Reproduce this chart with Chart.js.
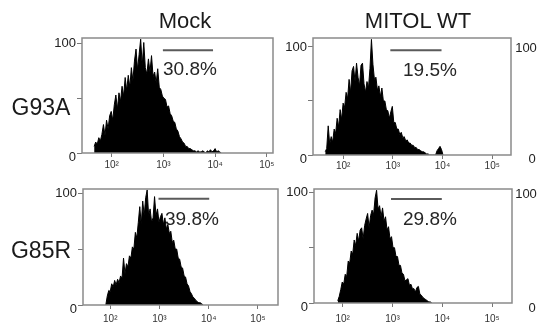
<!DOCTYPE html>
<html><head><meta charset="utf-8">
<script src="https://cdn.jsdelivr.net/npm/chart.js@4.4.0/dist/chart.umd.min.js"></script>
<style>
html,body{margin:0;padding:0;background:#fff;width:541px;height:327px;overflow:hidden;position:relative;font-family:"Liberation Sans",Arial,Helvetica,sans-serif;}
canvas{position:absolute;}
.t{position:absolute;white-space:nowrap;color:#1a1a1a;line-height:1;transform:translate(-50%,-50%);}
.l{position:absolute;white-space:nowrap;color:#262626;line-height:1;transform:translateY(-50%);}
</style></head><body>
<canvas id="p0"></canvas><canvas id="p1"></canvas><canvas id="p2"></canvas><canvas id="p3"></canvas>
<script>
// ---------- data ----------
const columnTitles = ['Mock', 'MITOL WT'];
const rowLabels = ['G93A', 'G85R'];
const xTickValues = [2, 3, 4, 5];           // log10 of fluorescence
const xTickLabels = ['10²', '10³', '10⁴', '10⁵'];
const yTickValues = [0, 50, 100];
const yTickLabels = ['0', '', '100'];
const binStep = 0.03;                        // histogram bin width (log10 units)

// G93A / Mock
const g93aMockStart = 1.66;
const g93aMock = [6,10,8,14,11,17,26,16,30,22, 34,38,30,44,53,40,55,47,61,52, 69,57,71,60,78,66,84,95,76,90,
  104,80,101,78,72,86,74,89,70,74, 64,77,60,58,52,50,49,42,43,36, 34,29,28,22,20,15,13,10,9,6,
  6,4,4,3,2,2,1,2,1,1, 2,1,0,2,1,3,1,2,4,1, 2,1,0];
// G93A / MITOL WT
const g93aMitolStart = 1.64;
const g93aMitol = [3,6,27,10,17,12,24,20,34,26, 42,33,48,44,58,52,70,58,78,82, 68,85,72,64,83,85,66,58,68,62,
  80,107,84,70,72,60,64,54,62,50, 50,42,41,34,40,45,30,30,24,24, 19,21,16,17,13,14,11,11,9,9,
  7,7,5,5,4,3,3,2,1,1, 0,0,0,0,0,4,6,8,5,0];
// G85R / Mock
const g85rMockStart = 1.91;
const g85rMock = [0,8,13,12,19,16,22,18,23,20, 26,24,42,28,37,34,44,42,52,50, 65,60,74,88,72,93,80,96,103,80,
  86,74,78,97,80,86,74,79,82,72, 78,68,72,64,66,56,58,50,50,42, 41,34,33,26,25,19,17,12,10,7,
  6,4,3,2,2,1,0];
// G85R / MITOL WT
const g85rMitolStart = 1.90;
const g85rMitol = [2,6,12,19,17,26,24,38,36,47, 44,57,52,63,56,66,68,58,70,76, 81,68,79,84,80,95,102,85,88,78,
  86,74,78,66,69,58,60,50,50,42, 42,34,34,27,26,20,21,22,16,17, 13,13,10,14,15,8,7,5,4,3,
  2,1,1,0];

// gates (log10 range, height in % of max) and percentages
const gatePercents = ['30.8%', '19.5%', '39.8%', '29.8%'];
const gateFrom = [2.99, 2.95, 2.98, 2.97];
const gateTo = [3.96, 3.98, 4.01, 3.99];
const gateLevel = [94, 97, 95, 94];

// ---------- layout ----------
const panels = [
  {id:'p0', vals:g93aMock,  start:g93aMockStart,  L:82,  T:38,  R:273, B:153, xmin:1.425, xmax:5.12,  ymax:105.1, xpad:2, gx:163, gy:68},
  {id:'p1', vals:g93aMitol, start:g93aMitolStart, L:313, T:38,  R:511, B:155, xmin:1.394, xmax:5.378, ymax:108.3, xpad:1, gx:403, gy:69},
  {id:'p2', vals:g85rMock,  start:g85rMockStart,  L:83,  T:189, R:278, B:305, xmin:1.447, xmax:5.407, ymax:103.8, xpad:4, gx:165, gy:217.5},
  {id:'p3', vals:g85rMitol, start:g85rMitolStart, L:314, T:189, R:512, B:303, xmin:1.423, xmax:5.40,  ymax:103.1, xpad:6, gx:403, gy:217.5}
];
const PADL = 45, PADT = 6, PADR = 6, XH = 26;

const framePlugin = {
  id: 'frame',
  afterDraw(chart) {
    const a = chart.chartArea, ctx = chart.ctx;
    ctx.save();
    ctx.strokeStyle = '#8a8a8a';
    ctx.lineWidth = 1.5;
    ctx.strokeRect(a.left, a.top, a.right - a.left, a.bottom - a.top);
    ctx.restore();
  }
};

function addText(txt, x, y, size, cls, color) {
  const d = document.createElement('div');
  d.className = cls;
  d.textContent = txt;
  d.style.left = x + 'px';
  d.style.top = y + 'px';
  d.style.fontSize = size + 'px';
  if (color) d.style.color = color;
  document.body.appendChild(d);
}

panels.forEach((p, k) => {
  const cv = document.getElementById(p.id);
  const w = (p.R - p.L) + PADL + PADR, h = (p.B - p.T) + PADT + XH;
  cv.width = w; cv.height = h;
  cv.style.left = (p.L - PADL) + 'px';
  cv.style.top = (p.T - PADT) + 'px';
  cv.style.width = w + 'px'; cv.style.height = h + 'px';
  const pts = p.vals.map((v, i) => ({x: p.start + i * binStep, y: v}));
  new Chart(cv, {
    type: 'line',
    data: {datasets: [
      {data: pts, fill: 'origin', backgroundColor: '#000', borderColor: '#000', borderWidth: 1,
       pointRadius: 0, tension: 0, order: 2},
      {data: [{x: gateFrom[k], y: gateLevel[k]}, {x: gateTo[k], y: gateLevel[k]}],
       borderColor: '#5a5a5a', borderWidth: 2, pointRadius: 0, fill: false, order: 1}
    ]},
    options: {
      animation: false, responsive: false, maintainAspectRatio: false, devicePixelRatio: 1,
      layout: {padding: {top: PADT, right: PADR, left: 0, bottom: 0}},
      plugins: {legend: {display: false}, tooltip: {enabled: false}},
      scales: {
        x: {
          type: 'linear', min: p.xmin, max: p.xmax,
          afterFit(s) { s.height = XH; },
          afterBuildTicks(s) { s.ticks = xTickValues.map(v => ({value: v})); },
          ticks: {
            callback: v => xTickLabels[xTickValues.indexOf(v)],
            font: {size: 10, family: 'Liberation Sans'}, color: '#333',
            padding: p.xpad, maxRotation: 0, autoSkip: false
          },
          grid: {drawOnChartArea: false, drawTicks: true, tickLength: 4, color: '#777', lineWidth: 1},
          border: {display: false}
        },
        y: {
          min: 0, max: p.ymax,
          afterFit(s) { s.width = PADL; },
          afterBuildTicks(s) { s.ticks = yTickValues.map(v => ({value: v})); },
          ticks: {
            callback: v => { const t = yTickLabels[yTickValues.indexOf(v)]; return v === 0 ? ['', t] : t; },
            font: {size: 13, family: 'Liberation Sans', lineHeight: 0.62}, color: '#222', padding: 1
          },
          grid: {drawOnChartArea: false, drawTicks: true, tickLength: 5, color: '#777', lineWidth: 1},
          border: {display: false}
        }
      }
    },
    plugins: [framePlugin]
  });
  addText(gatePercents[k], p.gx, p.gy, 19, 'l', '#262626');
});

addText(columnTitles[0], 185, 21, 22, 't');
addText(columnTitles[1], 418, 21, 22, 't');
addText(rowLabels[0], 41, 106.7, 23, 't');
addText(rowLabels[1], 41, 249.5, 23, 't');
// partially visible axis labels of the next column
addText('100', 526, 46.7, 13, 't', '#222');
addText('0', 532, 158.3, 13, 't', '#222');
addText('100', 526, 193.3, 13, 't', '#222');
addText('0', 532, 306.7, 13, 't', '#222');
</script>
</body></html>
